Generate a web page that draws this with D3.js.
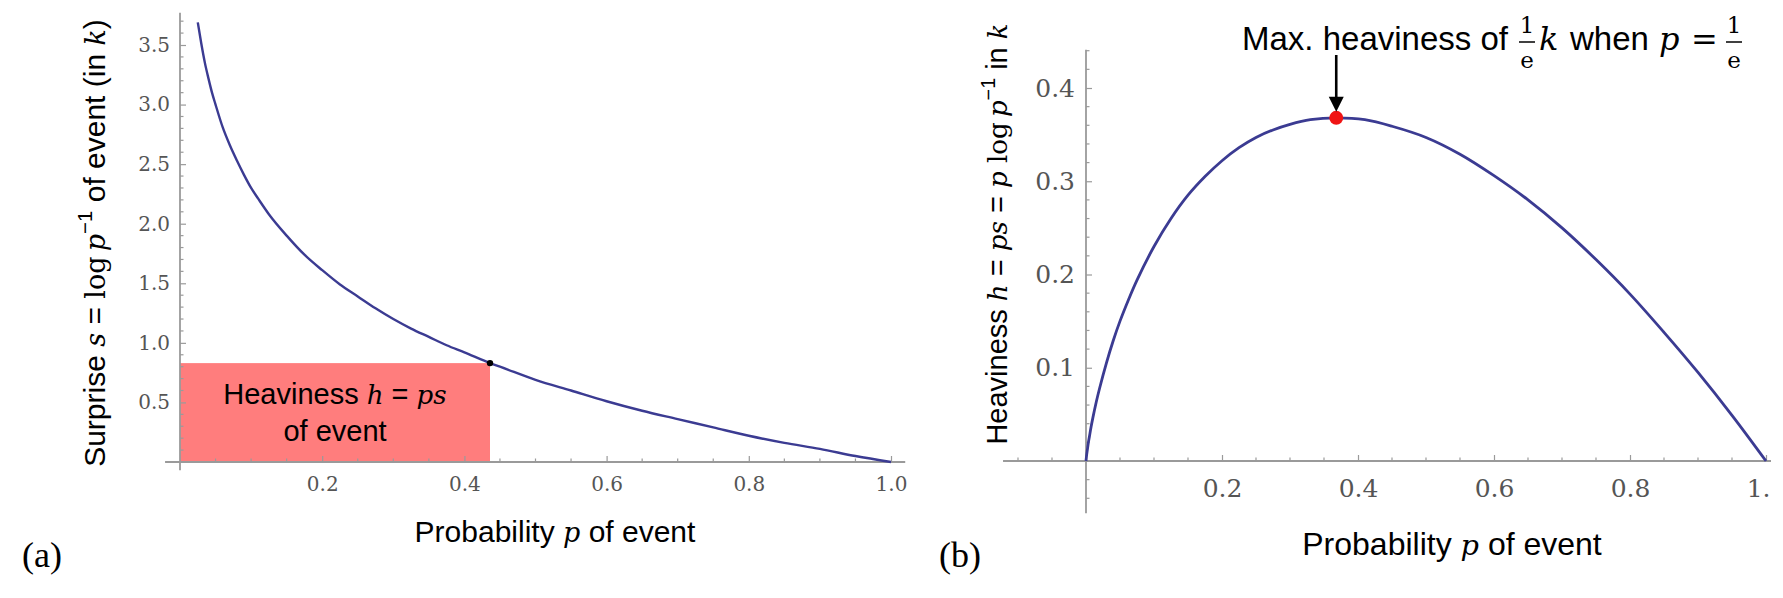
<!DOCTYPE html>
<html>
<head>
<meta charset="utf-8">
<script src="https://cdn.jsdelivr.net/npm/d3@7"></script>
<style>
  body { margin: 0; background: #fff; }
  svg { display: block; }
</style>
</head>
<body>
<div id="chart"></div>
<script>
// values
const surpriseP = [0.025, 0.03, 0.035, 0.04, 0.045, 0.05, 0.06, 0.07, 0.08, 0.09, 0.1, 0.11, 0.125, 0.15, 0.175, 0.2, 0.225, 0.25, 0.275, 0.3, 0.325, 0.35, 0.375, 0.4, 0.436, 0.45, 0.5, 0.55, 0.6, 0.65, 0.7, 0.75, 0.8, 0.85, 0.9, 0.95, 1.0];
const surpriseS = [3.69, 3.51, 3.35, 3.22, 3.10, 3.0, 2.81, 2.66, 2.53, 2.41, 2.3, 2.21, 2.08, 1.9, 1.74, 1.61, 1.49, 1.39, 1.29, 1.2, 1.12, 1.05, 0.98, 0.92, 0.83, 0.80, 0.69, 0.60, 0.51, 0.43, 0.36, 0.29, 0.22, 0.16, 0.11, 0.05, 0.0];
const heavyP = [0, 0.001, 0.002, 0.0035, 0.005, 0.0075, 0.01, 0.015, 0.02, 0.03, 0.04, 0.05, 0.0625, 0.075, 0.1, 0.125, 0.15, 0.175, 0.2, 0.225, 0.25, 0.275, 0.3, 0.33, 0.368, 0.41, 0.45, 0.5, 0.55, 0.6, 0.65, 0.7, 0.75, 0.8, 0.85, 0.9, 0.95, 1.0];
const heavyH = [0, 0.0069, 0.012, 0.0198, 0.026, 0.0367, 0.046, 0.063, 0.078, 0.105, 0.129, 0.15, 0.173, 0.194, 0.23, 0.26, 0.285, 0.305, 0.322, 0.336, 0.347, 0.355, 0.361, 0.366, 0.368, 0.366, 0.359, 0.347, 0.329, 0.306, 0.28, 0.25, 0.216, 0.179, 0.138, 0.095, 0.049, 0];
const eventMark = [0.436, 0.83];   // p, s of the shaded event
const peakMark = [0.368, 0.368];   // p = 1/e, h = 1/e

const leftXTicks = [0.2, 0.4, 0.6, 0.8, 1.0];
const leftYTicks = [0.5, 1.0, 1.5, 2.0, 2.5, 3.0, 3.5];
const rightXTicks = [0.2, 0.4, 0.6, 0.8, 1.0];
const rightYTicks = [0.1, 0.2, 0.3, 0.4];

const W = 1783, H = 598;
const SANS = "'Liberation Sans', Arial, sans-serif";
const SERIF = "'DejaVu Serif', serif";
const TIMES = "'Liberation Serif', 'Times New Roman', serif";
const curveColor = "#3b3b92";
const axisColor = "#9a9a9a";
const tickText = "#555";

const svg = d3.select("#chart").append("svg")
  .attr("width", W).attr("height", H);

svg.append("defs").append("clipPath").attr("id", "clipR")
  .append("rect").attr("x", 820).attr("y", 0).attr("width", 951).attr("height", H);

// scales
const xL = d3.scaleLinear().domain([0, 1]).range([180, 891]);
const yL = d3.scaleLinear().domain([0, 3.5]).range([462, 45]);
const xR = d3.scaleLinear().domain([0, 1]).range([1086, 1766]);
const yR = d3.scaleLinear().domain([0, 0.4]).range([461, 88]);

// tiny helper for text with mixed sans / math pieces
function richText(g, parts, size) {
  const t = g.append("text").attr("font-size", size).attr("fill", "#000");
  let shifted = false;
  parts.forEach(p => {
    const s = t.append("tspan").text(p.t);
    if (p.f === "it") s.attr("font-family", SERIF).attr("font-style", "italic").attr("font-size", size * 0.9);
    else if (p.f === "rm") s.attr("font-family", SERIF).attr("font-size", size * 0.9);
    else s.attr("font-family", SANS);
    if (p.sup) { s.attr("dy", -size * 0.42).attr("font-size", size * 0.68); shifted = true; }
    else if (shifted) { s.attr("dy", size * 0.42); shifted = false; }
  });
  return t;
}

function drawAxes(g, x, y, o) {
  const ax = g.append("g");
  // axis lines
  ax.append("line").attr("x1", x(o.xFrom)).attr("x2", x(o.xTo))
    .attr("y1", y(0)).attr("y2", y(0))
    .attr("stroke", axisColor).attr("stroke-width", 1.8);
  ax.append("line").attr("x1", x(0)).attr("x2", x(0))
    .attr("y1", y(o.yFrom)).attr("y2", y(o.yTo))
    .attr("stroke", axisColor).attr("stroke-width", 1.8);

  // minor ticks
  ax.selectAll(".mx").data(o.xMinor).join("line")
    .attr("x1", d => x(d)).attr("x2", d => x(d))
    .attr("y1", y(0)).attr("y2", y(0) - 3.5)
    .attr("stroke", axisColor).attr("stroke-width", 1.2);
  ax.selectAll(".my").data(o.yMinor).join("line")
    .attr("x1", x(0)).attr("x2", x(0) + 3.5)
    .attr("y1", d => y(d)).attr("y2", d => y(d))
    .attr("stroke", axisColor).attr("stroke-width", 1.2);

  // major ticks and labels
  const gx = ax.append("g").attr("transform", `translate(0,${y(0)})`)
    .call(d3.axisBottom(x).tickValues(o.xTicks).tickFormat(d3.format(".1f"))
      .tickSizeInner(-6).tickSizeOuter(0).tickPadding(o.xPad));
  const gy = ax.append("g").attr("transform", `translate(${x(0)},0)`)
    .call(d3.axisLeft(y).tickValues(o.yTicks).tickFormat(d3.format(".1f"))
      .tickSizeInner(-6).tickSizeOuter(0).tickPadding(o.yPad));
  [gx, gy].forEach(a => {
    a.select(".domain").remove();
    a.selectAll(".tick line").attr("stroke", axisColor).attr("stroke-width", 1.2);
    a.selectAll(".tick text").attr("font-family", SERIF).attr("font-size", o.fs)
      .attr("fill", tickText);
  });
}

// ---------------- panel (a) ----------------
const gA = svg.append("g");

gA.append("rect")
  .attr("x", xL(0)).attr("y", yL(eventMark[1]))
  .attr("width", xL(eventMark[0]) - xL(0))
  .attr("height", yL(0) - yL(eventMark[1]))
  .attr("fill", "#ff7d7d");

drawAxes(gA, xL, yL, {
  xFrom: -0.021, xTo: 1.02, yFrom: -0.07, yTo: 3.77,
  xMinor: d3.range(1, 21).map(i => i * 0.05).filter(d => Math.round(d * 100) % 20 !== 0),
  yMinor: d3.range(1, 38).map(i => i * 0.1).filter(d => Math.round(d * 10) % 5 !== 0),
  xTicks: leftXTicks, yTicks: leftYTicks, xPad: 15, yPad: 10, fs: 20
});

const surpriseData = surpriseP.map((p, i) => [p, surpriseS[i]]);
gA.append("path").datum(surpriseData)
  .attr("fill", "none").attr("stroke", curveColor).attr("stroke-width", 2.4)
  .attr("d", d3.line().x(d => xL(d[0])).y(d => yL(d[1])).curve(d3.curveMonotoneX));

gA.append("circle").attr("cx", xL(eventMark[0])).attr("cy", yL(eventMark[1]))
  .attr("r", 3.2).attr("fill", "#000");

// text in the red box
const boxCx = (xL(0) + xL(eventMark[0])) / 2;
richText(gA, [{ t: "Heaviness " }, { t: "h", f: "it" }, { t: " = " }, { t: "ps", f: "it" }], 29)
  .attr("x", boxCx).attr("y", 404).attr("text-anchor", "middle");
richText(gA, [{ t: "of event" }], 29)
  .attr("x", boxCx).attr("y", 441).attr("text-anchor", "middle");

// axis titles
richText(gA, [{ t: "Probability " }, { t: "p", f: "it" }, { t: " of event" }], 30)
  .attr("x", 555).attr("y", 542).attr("text-anchor", "middle");
richText(gA, [
  { t: "Surprise " }, { t: "s", f: "it" }, { t: " = " }, { t: "log\u2009", f: "rm" }, { t: "p", f: "it" },
  { t: "\u22121", sup: true }, { t: " of event (in " }, { t: "k", f: "it" }, { t: ")" }
], 30).attr("text-anchor", "middle").attr("transform", "translate(105,243) rotate(-90)");

gA.append("text").attr("x", 22).attr("y", 567).attr("font-family", TIMES)
  .attr("font-size", 36).text("(a)");

// ---------------- panel (b) ----------------
const gB = svg.append("g").attr("clip-path", "url(#clipR)");

drawAxes(gB, xR, yR, {
  xFrom: -0.122, xTo: 1.03, yFrom: -0.056, yTo: 0.441,
  xMinor: d3.range(-2, 21).map(i => i * 0.05).filter(d => Math.abs(d) > 1e-9 && Math.round(d * 100) % 20 !== 0),
  yMinor: d3.range(-2, 23).map(i => i * 0.02).filter(d => Math.abs(d) > 1e-9 && Math.round(d * 100) % 10 !== 0),
  xTicks: rightXTicks, yTicks: rightYTicks, xPad: 18, yPad: 11, fs: 25
});

const heavyData = heavyP.map((p, i) => [p, heavyH[i]]);
gB.append("path").datum(heavyData)
  .attr("fill", "none").attr("stroke", curveColor).attr("stroke-width", 2.8)
  .attr("d", d3.line().x(d => xR(d[0])).y(d => yR(d[1])).curve(d3.curveCatmullRom.alpha(0.5)));

gB.append("circle").attr("cx", xR(peakMark[0])).attr("cy", yR(peakMark[1]))
  .attr("r", 7).attr("fill", "#f01414");

// arrow to the maximum
const ax0 = xR(peakMark[0]), tipY = yR(peakMark[1]) - 6;
gB.append("line").attr("x1", ax0).attr("x2", ax0).attr("y1", 55).attr("y2", tipY - 12)
  .attr("stroke", "#000").attr("stroke-width", 2.6);
gB.append("path")
  .attr("d", `M${ax0 - 7.5},${tipY - 15} L${ax0 + 7.5},${tipY - 15} L${ax0},${tipY} Z`)
  .attr("fill", "#000");

// annotation
const ann = svg.append("g");
ann.append("text").attr("x", 1508).attr("y", 50).attr("text-anchor", "end")
  .attr("font-family", SANS).attr("font-size", 33).text("Max. heaviness of");
function frac(cx) {
  ann.append("text").attr("x", cx).attr("y", 33).attr("text-anchor", "middle")
    .attr("font-family", SERIF).attr("font-size", 23).text("1");
  ann.append("line").attr("x1", cx - 8).attr("x2", cx + 8).attr("y1", 42).attr("y2", 42)
    .attr("stroke", "#000").attr("stroke-width", 1.5);
  ann.append("text").attr("x", cx).attr("y", 68).attr("text-anchor", "middle")
    .attr("font-family", SERIF).attr("font-size", 23).text("e");
}
frac(1527);
ann.append("text").attr("x", 1539).attr("y", 50).attr("font-family", SERIF)
  .attr("font-style", "italic").attr("font-size", 32).text("k");
ann.append("text").attr("x", 1570).attr("y", 50).attr("font-family", SANS)
  .attr("font-size", 33).text("when");
ann.append("text").attr("x", 1659).attr("y", 50).attr("font-family", SERIF)
  .attr("font-style", "italic").attr("font-size", 32).text("p");
ann.append("text").attr("x", 1691).attr("y", 50).attr("font-family", SERIF)
  .attr("font-size", 32).text("=");
frac(1734);

// axis titles
richText(svg, [{ t: "Probability " }, { t: "p", f: "it" }, { t: " of event" }], 32)
  .attr("x", 1452).attr("y", 555).attr("text-anchor", "middle");
richText(svg, [
  { t: "Heaviness " }, { t: "h", f: "it" }, { t: " = " }, { t: "ps", f: "it" }, { t: " = " },
  { t: "p", f: "it" }, { t: " log\u2009", f: "rm" }, { t: "p", f: "it" }, { t: "\u22121", sup: true },
  { t: " in " }, { t: "k", f: "it" }
], 29).attr("text-anchor", "middle").attr("transform", "translate(1007,234) rotate(-90)");

svg.append("text").attr("x", 939).attr("y", 567).attr("font-family", TIMES)
  .attr("font-size", 36).text("(b)");
</script>
</body>
</html>
